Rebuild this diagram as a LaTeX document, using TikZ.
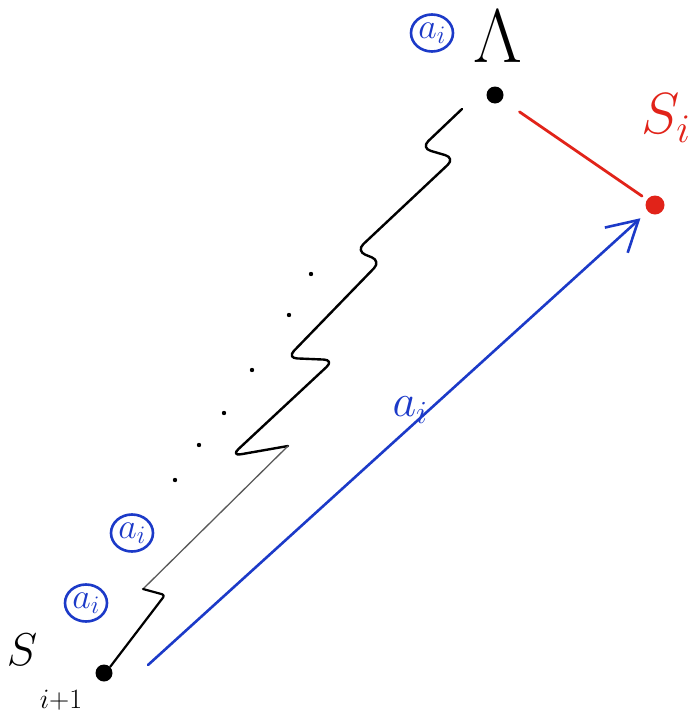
\documentclass[tikz,border=0pt]{standalone}
\usepackage{fix-cm}
\usetikzlibrary{arrows.meta,shapes.geometric}
\definecolor{pblue}{RGB}{28,58,200}
\definecolor{pred}{RGB}{225,35,25}
\begin{document}
\begin{tikzpicture}[x=1pt,y=-1pt,
  dotnode/.style={circle,fill=black,inner sep=0pt,minimum size=17pt},
  reddot/.style={circle,fill=pred,inner sep=0pt,minimum size=19pt},
  circlab/.style={ellipse,draw=pblue,line width=2.6pt,text=pblue,minimum width=42pt,minimum height=37pt,inner sep=0pt,font=\fontsize{36}{36}\selectfont},
  zig/.style={line width=2.4pt,line cap=round,line join=round,rounded corners=10pt},
  thinzig/.style={line width=1.3pt,black!65,line cap=round},
  pdot/.style={fill=black}]
\useasboundingbox (0,0) rectangle (695,718);
% nodes
\node[dotnode] (ltop) at (495,95) {};
\node[reddot] (si) at (655,205) {};
\node[dotnode] (sbot) at (104,673) {};
\node[font=\fontsize{76}{76}\selectfont] (lam) at (498,37) {$\Lambda$};
\node[text=pred,font=\fontsize{58}{58}\selectfont] (silab) at (666,118) {$S_i$};
\node[font=\fontsize{46}{46}\selectfont] (sblab) at (22,650) {$S$};
\node[font=\fontsize{28}{28}\selectfont] (sbsub) at (61,700) {$i{+}1$};
\node[text=pblue,font=\fontsize{46}{46}\selectfont] (alab) at (410,410) {$a_i$};
\node[circlab] (c1) at (432,33) {$a_i$};
\node[circlab] (c2) at (132,533) {$a_i$};
\node[circlab] (c3) at (86,603) {$a_i$};
% red edge
\draw[pred,line width=2.8pt,line cap=round,shorten <=21pt,shorten >=6pt] (ltop) -- (si);
% blue arrow
\coordinate (bstart) at (148,665);
\draw[pblue,line width=2.6pt,line cap=round,shorten >=10pt,
  -{Straight Barb[length=30pt,width=34pt,line width=2.6pt]}] (bstart) -- (si);
% zigzag
\coordinate (z0) at (462,109);
\coordinate (z1) at (421,148);
\coordinate (z2) at (455,158);
\coordinate (z3) at (356,251);
\coordinate (z4) at (381,261);
\coordinate (z5) at (287,358);
\coordinate (z6) at (334,360);
\coordinate (z7) at (231,456);
\coordinate (z8) at (288,446);
\coordinate (z9) at (143,589);
\coordinate (z10) at (165,595);
\draw[zig] (z0) -- (z1) -- (z2) -- (z3) -- (z4) -- (z5) -- (z6) -- (z7) -- (z8);
\draw[thinzig] (z8) -- (z9);
\draw[line width=2.2pt,line cap=round,line join=round,rounded corners=3pt] (z9) -- (z10) -- (sbot.45);
% ellipsis dots
\foreach \p in {(311,274),(289,315),(252,370),(224,413),(199,445),(175,480)}
  \fill[pdot] \p circle (2.2pt);
\end{tikzpicture}
\end{document}
